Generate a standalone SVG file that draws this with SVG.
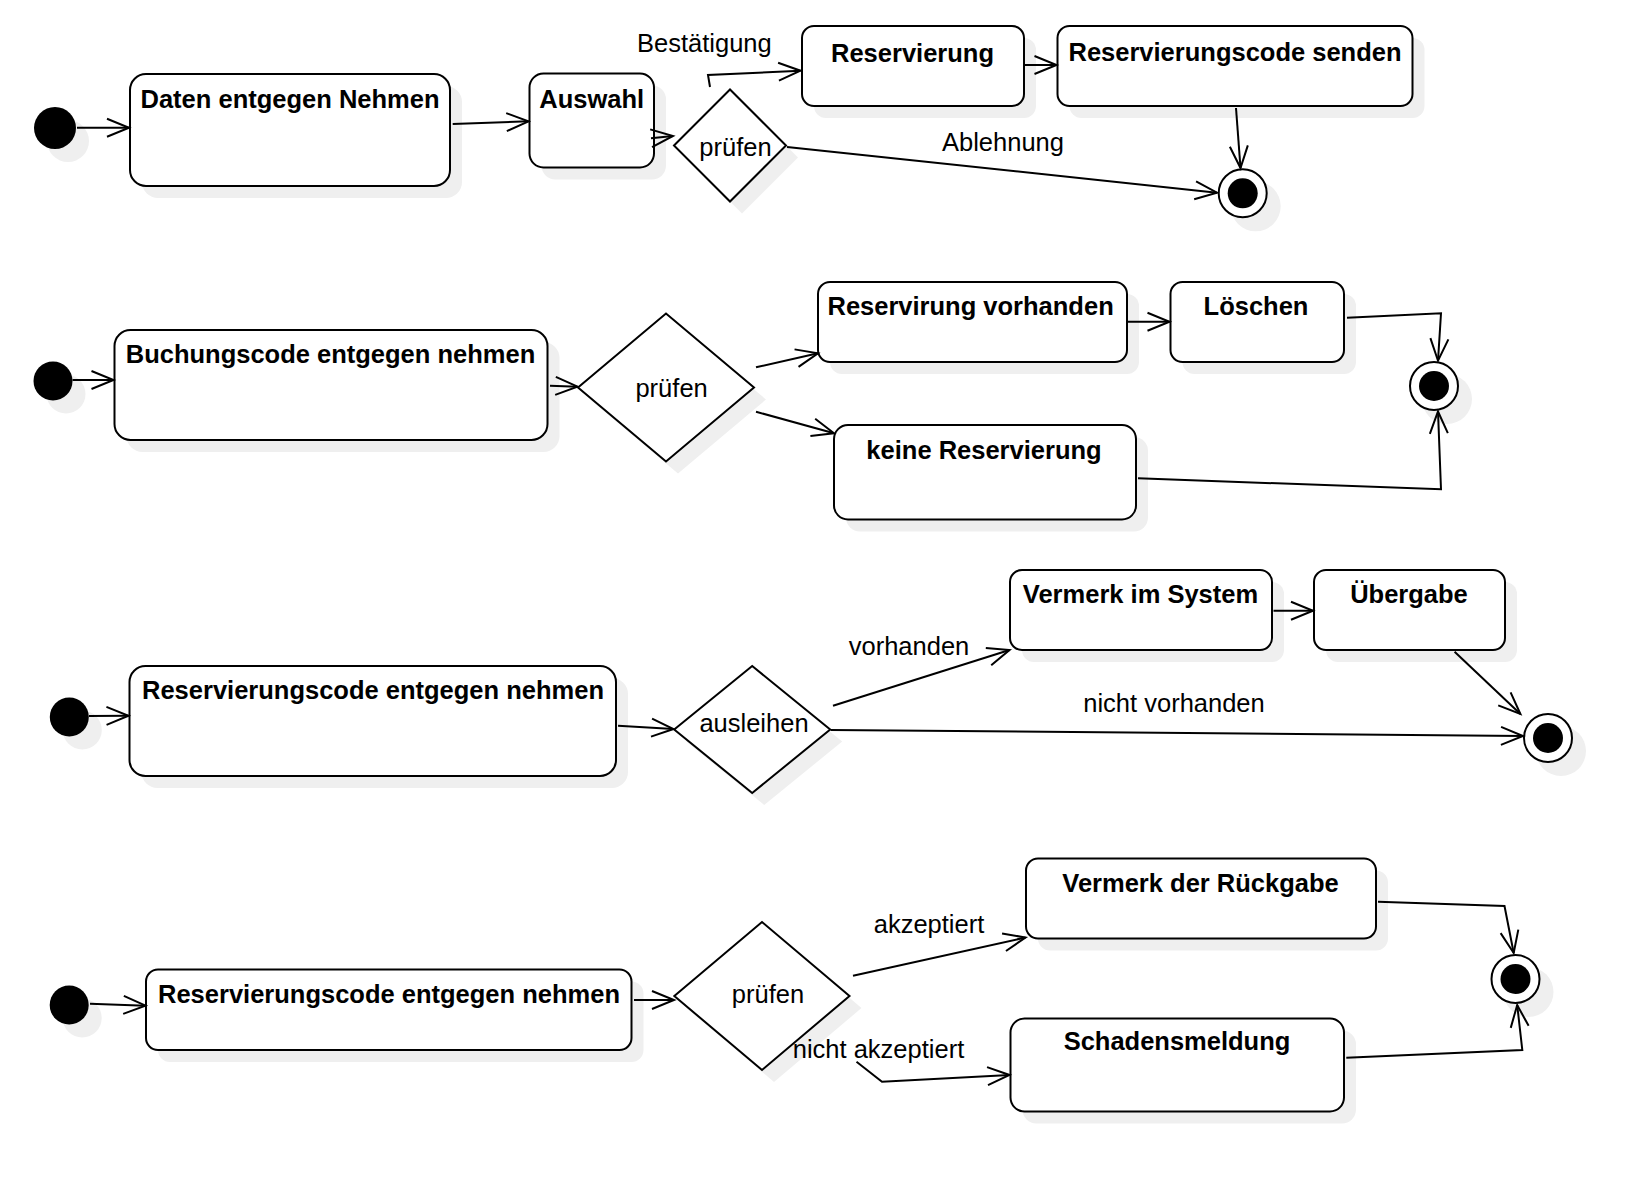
<svg xmlns="http://www.w3.org/2000/svg" width="1638" height="1186" viewBox="0 0 1638 1186">
<style>
.sh{fill:#efefef;stroke:none}
.box{fill:#fff;stroke:#000;stroke-width:2}
.start{fill:#000;stroke:none}
.endo{fill:#fff;stroke:#000;stroke-width:2}
.endi{fill:#000;stroke:none}
.t{font-family:"Liberation Sans",Arial,Helvetica,sans-serif;font-size:25.5px;text-anchor:middle;fill:#000}
.b{font-weight:bold}
.e{fill:none;stroke:#000;stroke-width:2;marker-end:url(#a)}
</style>
<defs>
<marker id="a" markerUnits="userSpaceOnUse" viewBox="-24 -11 26 22" markerWidth="26" markerHeight="22" refX="0" refY="0" orient="auto" overflow="visible">
<path d="M-22,-9 L0,0 L-22,9" fill="none" stroke="#000" stroke-width="2"/>
</marker>
</defs>
<rect width="1638" height="1186" fill="#fff"/>

<!-- Row 1 -->
<g id="start1"><circle class="sh" cx="68" cy="141" r="21"/><circle class="start" cx="55" cy="128" r="21"/></g>
<g id="daten"><rect class="sh" x="142" y="86" width="320" height="112" rx="16"/><rect class="box" x="130" y="74" width="320" height="112" rx="16"/><text class="t b" x="290" y="108">Daten entgegen Nehmen</text></g>
<g id="auswahl"><rect class="sh" x="541.5" y="85.5" width="124.5" height="94" rx="14"/><rect class="box" x="529.5" y="73.5" width="124.5" height="94" rx="14"/><text class="t b" x="591.7" y="108.3">Auswahl</text></g>
<g id="pruefen1"><polygon class="sh" points="686,157.5 742,101.5 798,157.5 742,213.5"/><polygon class="box" points="674,145.5 730,89.5 786,145.5 730,201.5"/><text class="t" x="735.5" y="155.5">prüfen</text></g>
<g id="reservierung"><rect class="sh" x="814" y="38" width="222" height="80" rx="12"/><rect class="box" x="802" y="26" width="222" height="80" rx="12"/><text class="t b" x="912.5" y="61.5">Reservierung</text></g>
<g id="codesenden"><rect class="sh" x="1069.5" y="38" width="355" height="80" rx="12"/><rect class="box" x="1057.5" y="26" width="355" height="80" rx="12"/><text class="t b" x="1235" y="60.5">Reservierungscode senden</text></g>
<g id="end1"><circle class="sh" cx="1255.7" cy="206.3" r="25"/><circle class="endo" cx="1242.7" cy="193.3" r="24"/><circle class="endi" cx="1242.7" cy="193.3" r="15"/></g>
<g id="lbl1"><text class="t" x="704.4" y="51.7">Bestätigung</text><text class="t" x="1003" y="151">Ablehnung</text></g>

<!-- Row 2 -->
<g id="start2"><circle class="sh" cx="66" cy="394" r="19.5"/><circle class="start" cx="53" cy="381" r="19.5"/></g>
<g id="buchungscode"><rect class="sh" x="126.5" y="342" width="433" height="110" rx="16"/><rect class="box" x="114.5" y="330" width="433" height="110" rx="16"/><text class="t b" x="330.5" y="363.3">Buchungscode entgegen nehmen</text></g>
<g id="pruefen2"><polygon class="sh" points="590,399.5 678,325.5 766,399.5 678,473.5"/><polygon class="box" points="578,387.5 666,313.5 754,387.5 666,461.5"/><text class="t" x="671.6" y="396.7">prüfen</text></g>
<g id="vorhanden2"><rect class="sh" x="830" y="294" width="309" height="80" rx="12"/><rect class="box" x="818" y="282" width="309" height="80" rx="12"/><text class="t b" x="970.6" y="315">Reservirung vorhanden</text></g>
<g id="loeschen"><rect class="sh" x="1182.5" y="294" width="173.5" height="80" rx="12"/><rect class="box" x="1170.5" y="282" width="173.5" height="80" rx="12"/><text class="t b" x="1256" y="315">Löschen</text></g>
<g id="keine"><rect class="sh" x="846" y="437" width="302" height="94.5" rx="14"/><rect class="box" x="834" y="425" width="302" height="94.5" rx="14"/><text class="t b" x="984" y="459.3">keine Reservierung</text></g>
<g id="end2"><circle class="sh" cx="1447" cy="399" r="25"/><circle class="endo" cx="1434" cy="386" r="24"/><circle class="endi" cx="1434" cy="386" r="15"/></g>

<!-- Row 3 -->
<g id="start3"><circle class="sh" cx="82.3" cy="730" r="19.5"/><circle class="start" cx="69.3" cy="717" r="19.5"/></g>
<g id="rescode3"><rect class="sh" x="141.5" y="678" width="486.5" height="110" rx="16"/><rect class="box" x="129.5" y="666" width="486.5" height="110" rx="16"/><text class="t b" x="373" y="699.3">Reservierungscode entgegen nehmen</text></g>
<g id="ausleihen"><polygon class="sh" points="686.2,741.5 764.2,678 842.2,741.5 764.2,805"/><polygon class="box" points="674.2,729.5 752.2,666 830.2,729.5 752.2,793"/><text class="t" x="754" y="731.7">ausleihen</text></g>
<g id="vermerksystem"><rect class="sh" x="1022" y="582" width="262" height="80" rx="12"/><rect class="box" x="1010" y="570" width="262" height="80" rx="12"/><text class="t b" x="1140.5" y="603.3">Vermerk im System</text></g>
<g id="uebergabe"><rect class="sh" x="1326" y="582" width="191" height="80" rx="12"/><rect class="box" x="1314" y="570" width="191" height="80" rx="12"/><text class="t b" x="1409" y="603.3">Übergabe</text></g>
<g id="end3"><circle class="sh" cx="1561" cy="751" r="25"/><circle class="endo" cx="1548" cy="738" r="24"/><circle class="endi" cx="1548" cy="738" r="15"/></g>
<g id="lbl3"><text class="t" x="909" y="655">vorhanden</text><text class="t" x="1174" y="711.7">nicht vorhanden</text></g>

<!-- Row 4 -->
<g id="start4"><circle class="sh" cx="82.2" cy="1018" r="19.5"/><circle class="start" cx="69.2" cy="1005" r="19.5"/></g>
<g id="rescode4"><rect class="sh" x="158" y="981.5" width="485.5" height="80.5" rx="12"/><rect class="box" x="146" y="969.5" width="485.5" height="80.5" rx="12"/><text class="t b" x="389" y="1003.3">Reservierungscode entgegen nehmen</text></g>
<g id="pruefen4"><polygon class="sh" points="686.3,1008 774,934 861.5,1008 774,1082"/><polygon class="box" points="674.3,996 762,922 849.5,996 762,1070"/><text class="t" x="768" y="1003.3">prüfen</text></g>
<g id="rueckgabe"><rect class="sh" x="1038" y="870.5" width="350" height="80" rx="12"/><rect class="box" x="1026" y="858.5" width="350" height="80" rx="12"/><text class="t b" x="1200.5" y="891.7">Vermerk der Rückgabe</text></g>
<g id="schaden"><rect class="sh" x="1022.5" y="1030.5" width="333.5" height="93" rx="14"/><rect class="box" x="1010.5" y="1018.5" width="333.5" height="93" rx="14"/><text class="t b" x="1177" y="1050">Schadensmeldung</text></g>
<g id="end4"><circle class="sh" cx="1528.5" cy="992" r="25"/><circle class="endo" cx="1515.5" cy="979" r="24"/><circle class="endi" cx="1515.5" cy="979" r="15"/></g>
<g id="lbl4"><text class="t" x="929" y="933.3">akzeptiert</text><text class="t" x="878.5" y="1058.3">nicht akzeptiert</text></g>

<g id="connectors">
<polyline class="e" points="77,127.7 129,127.7"/>
<polyline class="e" points="452.7,124 528.5,121.3"/>
<polyline class="e" points="651,138.3 673,136"/>
<polyline class="e" points="710,87 708,75 800.5,70.7"/>
<polyline class="e" points="1024,65 1056.5,65"/>
<polyline class="e" points="1236,108 1240.5,168"/>
<polyline class="e" points="787,147 1217,192.7"/>

<polyline class="e" points="72.5,380 113.5,380"/>
<polyline class="e" points="550,385.7 577.5,386.7"/>
<polyline class="e" points="756,367.3 818,353.3"/>
<polyline class="e" points="756,411.7 834,433.3"/>
<polyline class="e" points="1128,321.7 1169.5,321.7"/>
<polyline class="e" points="1347,317.7 1441,313.3 1438,360.7"/>
<polyline class="e" points="1138,478.3 1441,489.3 1438,411.5"/>

<polyline class="e" points="89,716 128.5,715.7"/>
<polyline class="e" points="618,725.7 673.5,729"/>
<polyline class="e" points="833,705.7 1009.5,650"/>
<polyline class="e" points="1273.5,610.7 1313,610.7"/>
<polyline class="e" points="1454.6,651.7 1520.4,714"/>
<polyline class="e" points="830.6,730 1523,736"/>

<polyline class="e" points="90,1003.7 145.5,1005.7"/>
<polyline class="e" points="634,1000 674,1000"/>
<polyline class="e" points="853,975.7 1025.5,937.5"/>
<polyline class="e" points="1378,901.7 1504.5,906 1513.7,953"/>
<polyline class="e" points="1346.3,1057.7 1522.3,1050 1517.2,1005"/>
<polyline class="e" points="856.5,1061.7 882,1081.7 1009.5,1075"/>
</g>
</svg>
